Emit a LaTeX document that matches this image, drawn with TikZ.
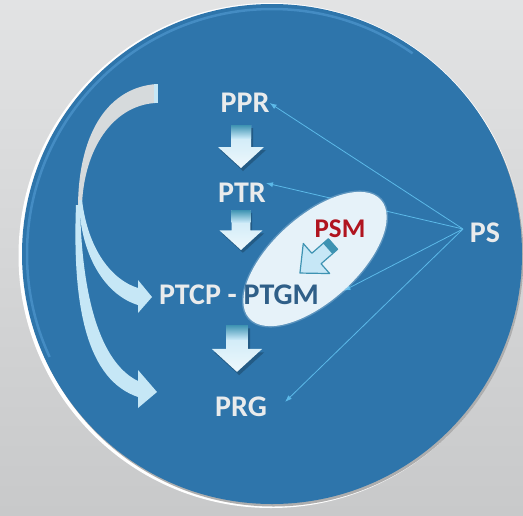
\documentclass[tikz,border=0pt]{standalone}
\usepackage{fontspec}
\setmainfont{Carlito}
\usetikzlibrary{arrows.meta,shapes.geometric,calc}
\pgfdeclarelayer{back}
\pgfdeclarelayer{mid}
\pgfsetlayers{back,mid,main}

\definecolor{bgtop}{HTML}{E2E3E4}
\definecolor{bgbot}{HTML}{C8C9CA}
\definecolor{discblue}{HTML}{2E75AB}
\definecolor{ringblue}{HTML}{5AA3DC}
\definecolor{txtlight}{HTML}{E9EBEC}
\definecolor{ptgmblue}{HTML}{2F5F88}
\definecolor{psmred}{HTML}{B0141F}
\definecolor{linkblue}{HTML}{5CB9E8}
\definecolor{arrteal}{HTML}{3E93B2}
\definecolor{arrlight}{HTML}{C6E7F6}
\definecolor{arrwhite}{HTML}{EEF8FC}
\definecolor{bandgrey}{HTML}{D6DADC}
\definecolor{ellfill}{HTML}{E6F2F9}

\begin{document}
\begin{tikzpicture}[x=1pt,y=-1pt,
  lbl/.style={font=\bfseries\fontsize{30}{30}\selectfont, text=txtlight, inner sep=0pt},
  psmlbl/.style={font=\bfseries\fontsize{27}{27}\selectfont, text=psmred, inner sep=0pt},
  link/.style={linkblue, line width=0.8pt, -{Latex[length=7pt,width=5pt]}},
  curvearrow/.style={fill=arrlight},
  downarr/.pic={
    \fill[black,opacity=0.22] (-8,3) -- (12,3) -- (12,25) -- (25,25) -- (2,46) -- (-21,25) -- (-8,25) -- cycle;
    \shade[top color=arrlight, bottom color=arrwhite] (-10,0) -- (10,0) -- (10,22) -- (23,22) -- (0,43) -- (-23,22) -- (-10,22) -- cycle;
    \shade[top color=arrteal, bottom color=arrlight] (-10,0) rectangle (10,13);
  },
  psmarrow/.pic={
    \fill[arrlight] (-7,0) -- (7,0) -- (7,22) -- (20,22) -- (0,44) -- (-20,22) -- (-7,22) -- cycle;
    \draw[arrteal, line width=1.2pt, line join=round] (-7,0) -- (7,0) -- (7,22) -- (20,22) -- (0,44) -- (-20,22) -- (-7,22) -- cycle;
    \fill[arrteal] (-7,0) rectangle (7,7);
  }
]
\useasboundingbox (0,0) rectangle (523,515);
\begin{pgfonlayer}{back}
  \shade[top color=bgtop, bottom color=bgbot] (0,0) rectangle (523,515);
  \fill[white] (271,255.5) circle[radius=252.5pt];
  \fill[black!70, opacity=0.45] (273.5,256.5) circle[radius=250pt];
  \fill[discblue] (272,254) circle[radius=250pt];
  \begin{scope}
    \clip (0,0) -- (450,0) -- (272,254) -- (0,380) -- cycle;
    \draw[ringblue, line width=2.5pt, opacity=0.5] (272,254) circle[radius=245pt];
  \end{scope}
\end{pgfonlayer}

% highlight ellipse
\fill[ellfill, opacity=0.25, rotate around={42:(315,259)}] (315,259) ellipse[x radius=90pt, y radius=44pt];
\node[ellipse, fill=ellfill, minimum width=177pt, minimum height=85pt, rotate=42, inner sep=0pt] (ell) at (315,259) {};

% labels
\node[lbl] (ppr) at (245,103) {PPR};
\node[lbl] (ptr) at (242,193) {PTR};
\node[lbl] (ptcp) at (239,295) {PTCP - {\color{ptgmblue}PTGM}};
\node[lbl] (prg) at (241,407) {PRG};
\node[psmlbl] (psm) at (340,229) {PSM};
\node[lbl] (ps) at (485,233) {PS};
\coordinate (hub) at (463,229);
\coordinate (prgtip) at (285,402);

% block arrows down the chain
\pic at (241,125) {downarr};
\pic[scale=0.93] at (241,210) {downarr};
\pic[scale=1.09] at (237,325) {downarr};
\pic[rotate=-48.7] at (333,244) {psmarrow};

% left curved arrows
\fill[bandgrey] (157,84) .. controls (110,87) and (79,130) .. (78,205) -- (82,205) .. controls (84,150) and (112,106) .. (155,103) -- cycle;
\fill[arrlight] (154,84) rectangle (158,103);
\fill[curvearrow] (79,200) .. controls (80,255) and (105,295) .. (138,305) -- (138,313) -- (152,297) -- (138,280) -- (138,288) .. controls (112,280) and (88,250) .. (82,200) -- cycle;
\fill[curvearrow] (76,205) .. controls (72,310) and (88,380) .. (138,397) -- (138,408) -- (157,392) -- (138,370) -- (138,381) .. controls (105,365) and (82,310) .. (80,205) -- cycle;

% links from PS
\begin{pgfonlayer}{mid}
  \draw[link] (hub) -- (ppr.east);
  \draw[link] (hub) -- (ptr.north east);
  \draw[link] (hub) -- (ell.south);
  \draw[link] (hub) -- (prgtip);
\end{pgfonlayer}
\end{tikzpicture}
\end{document}
